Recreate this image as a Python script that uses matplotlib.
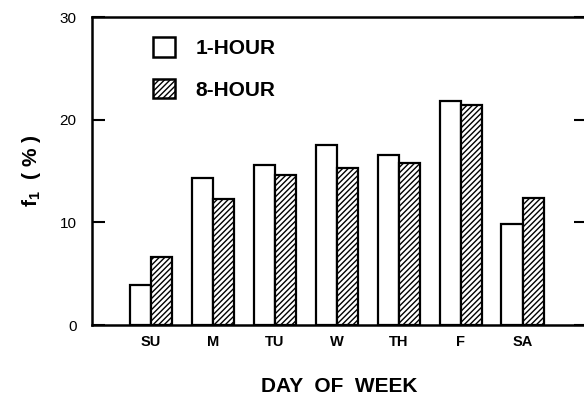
import numpy as np
import matplotlib.pyplot as plt
from matplotlib.patches import Patch

plt.rcParams['font.family'] = ['Liberation Sans', 'DejaVu Sans']
plt.rcParams['hatch.linewidth'] = 1.0

days = ['SU', 'M', 'TU', 'W', 'TH', 'F', 'SA']
one_hour = [3.9, 14.3, 15.6, 17.5, 16.6, 21.8, 9.8]
eight_hour = [6.6, 12.3, 14.6, 15.3, 15.8, 21.4, 12.4]

fig = plt.figure(figsize=(5.84, 3.98), dpi=100)
ax = fig.add_axes([0.1575, 0.1834, 0.8455, 0.7736])

x = np.arange(len(days))
w = 0.34
ax.bar(x - w / 2, one_hour, w, facecolor='white', edgecolor='black', linewidth=1.6)
ax.bar(x + w / 2, eight_hour, w, facecolor='white', edgecolor='black', linewidth=1.6,
       hatch='//////')

ax.set_xlim(-0.95, 7.02)
ax.set_ylim(0, 30)
ax.set_yticks([0, 10, 20, 30])
ax.set_xticks(x)
ax.set_xticklabels(days, fontsize=10.5, fontweight='bold')
ax.tick_params(axis='x', length=0, pad=7)
ax.tick_params(axis='y', direction='in', length=9, width=1.5, labelsize=11, pad=11,
               right=True)
for s in ax.spines.values():
    s.set_linewidth(1.8)

ax.set_xlabel('DAY  OF  WEEK', fontsize=15, fontweight='bold', labelpad=20)
ax.set_ylabel('f$_\\mathregular{1}$  ( % )', fontsize=15, fontweight='bold', labelpad=12)

handles = [Patch(facecolor='white', edgecolor='black', linewidth=1.8),
           Patch(facecolor='white', edgecolor='black', linewidth=1.8, hatch='//////')]
ax.legend(handles, ['1-HOUR', '8-HOUR'], loc='upper left', bbox_to_anchor=(0.085, 0.995),
          frameon=False, prop={'size': 15, 'weight': 'bold'},
          handlelength=1.05, handleheight=1.05, labelspacing=1.0, handletextpad=1.0)

fig.savefig('out.png', dpi=100)
